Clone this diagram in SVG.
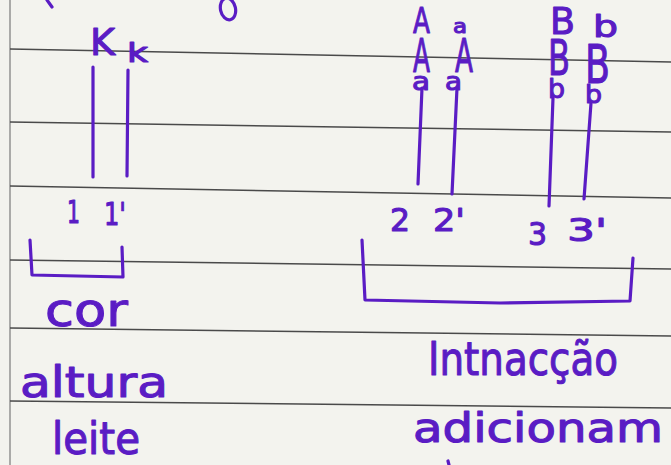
<svg xmlns="http://www.w3.org/2000/svg" width="671" height="465" viewBox="0 0 671 465">
  <style>
    .paper { fill: #f3f3ee; }
    .rule { stroke: #4a4a4a; stroke-width: 1.5; fill: none; }
    .margin { stroke: #8a8a8a; stroke-width: 1.4; fill: none; }
    .ink { stroke: #5a1cc4; stroke-width: 3.2; fill: none; stroke-linecap: round; stroke-linejoin: round; }
    .t { font-family: "DejaVu Sans", "Liberation Sans", sans-serif; fill: #5a1cc4; stroke: #5a1cc4; stroke-width: 1.1; stroke-linejoin: round; }
  </style>

  <!-- notebook page -->
  <rect class="paper" x="0" y="0" width="671" height="465"/>
  <g id="page-lines">
    <line class="margin" x1="10" y1="0" x2="10" y2="465"/>
    <line class="rule" x1="10" y1="49" x2="671" y2="62"/>
    <line class="rule" x1="10" y1="122" x2="671" y2="132"/>
    <line class="rule" x1="10" y1="186" x2="671" y2="198"/>
    <line class="rule" x1="10" y1="260" x2="671" y2="269"/>
    <line class="rule" x1="10" y1="328" x2="671" y2="336"/>
    <line class="rule" x1="10" y1="401" x2="671" y2="408"/>
  </g>

  <!-- stray marks from the line above -->
  <g id="stray-marks">
    <path class="ink" d="M47,0 L52,7"/>
    <ellipse class="ink" cx="228" cy="9" rx="7.5" ry="11" transform="rotate(-12 228 9)"/>
    <path class="ink" d="M448,461 L449,465" stroke-width="2.5"/>
  </g>

  <!-- chromosome lines -->
  <g id="connectors">
    <path class="ink" d="M93,67 L93,177"/>
    <path class="ink" d="M128,70 L127,176"/>
    <path class="ink" d="M422,88 L418,184"/>
    <path class="ink" d="M457,88 L452,194"/>
    <path class="ink" d="M553,98 L549,206"/>
    <path class="ink" d="M591,103 L584,199"/>
  </g>

  <!-- K / k pair -->
  <g id="pair-k">
    <text class="t" x="90" y="55" font-size="38" textLength="25" lengthAdjust="spacingAndGlyphs">K</text>
    <text class="t" x="127" y="62" font-size="26" textLength="21" lengthAdjust="spacingAndGlyphs">k</text>
    <text class="t" x="67" y="223" font-size="32" textLength="13" lengthAdjust="spacingAndGlyphs">1</text>
    <text class="t" x="104" y="225" font-size="32" textLength="22" lengthAdjust="spacingAndGlyphs">1'</text>
  </g>

  <!-- A / a pair: alleles stacked along each chromosome -->
  <g id="pair-a">
    <text class="t"><tspan x="413" y="33" font-size="36" textLength="17" lengthAdjust="spacingAndGlyphs">A</tspan><tspan x="413" y="72" font-size="46" textLength="17" lengthAdjust="spacingAndGlyphs">A</tspan><tspan x="412" y="90" font-size="24" textLength="18" lengthAdjust="spacingAndGlyphs">a</tspan></text>
    <text class="t"><tspan x="453" y="33" font-size="19" textLength="14" lengthAdjust="spacingAndGlyphs">a</tspan><tspan x="455" y="72" font-size="46" textLength="18" lengthAdjust="spacingAndGlyphs">A</tspan><tspan x="445" y="90" font-size="24" textLength="17" lengthAdjust="spacingAndGlyphs">a</tspan></text>
    <text class="t" x="390" y="231" font-size="32" textLength="20" lengthAdjust="spacingAndGlyphs">2</text>
    <text class="t" x="433" y="231" font-size="32" textLength="32" lengthAdjust="spacingAndGlyphs">2'</text>
  </g>

  <!-- B / b pair -->
  <g id="pair-b">
    <text class="t"><tspan x="550" y="34" font-size="38" textLength="25" lengthAdjust="spacingAndGlyphs">B</tspan><tspan x="548" y="75" font-size="50" textLength="22" lengthAdjust="spacingAndGlyphs">B</tspan><tspan x="548" y="98" font-size="27" textLength="17" lengthAdjust="spacingAndGlyphs">b</tspan></text>
    <text class="t"><tspan x="593" y="37" font-size="30" textLength="25" lengthAdjust="spacingAndGlyphs">b</tspan><tspan x="585" y="83" font-size="54" textLength="25" lengthAdjust="spacingAndGlyphs">B</tspan><tspan x="585" y="103" font-size="25" textLength="17" lengthAdjust="spacingAndGlyphs">b</tspan></text>
    <text class="t" x="528" y="245" font-size="32" textLength="19" lengthAdjust="spacingAndGlyphs">3</text>
    <text class="t" x="567" y="241" font-size="32" textLength="40" lengthAdjust="spacingAndGlyphs">3'</text>
  </g>

  <!-- bracket grouping the single gene, with its traits -->
  <g id="group-single">
    <path class="ink" d="M30,240 L32,275 L123,277 L122,247"/>
    <text class="t" x="45" y="326" font-size="46" textLength="83" lengthAdjust="spacingAndGlyphs">cor</text>
    <text class="t" x="20" y="397" font-size="42" textLength="148" lengthAdjust="spacingAndGlyphs">altura</text>
    <text class="t" x="52" y="454" font-size="44" textLength="88" lengthAdjust="spacingAndGlyphs">leite</text>
  </g>

  <!-- bracket grouping the interacting genes -->
  <g id="group-interaction">
    <path class="ink" d="M362,240 L365,300 L500,303 L630,301 L633,258"/>
    <text class="t" x="428" y="375" font-size="46" textLength="190" lengthAdjust="spacingAndGlyphs">Intnacção</text>
    <text class="t" x="413" y="442" font-size="40" textLength="250" lengthAdjust="spacingAndGlyphs">adicionam</text>
  </g>
</svg>
